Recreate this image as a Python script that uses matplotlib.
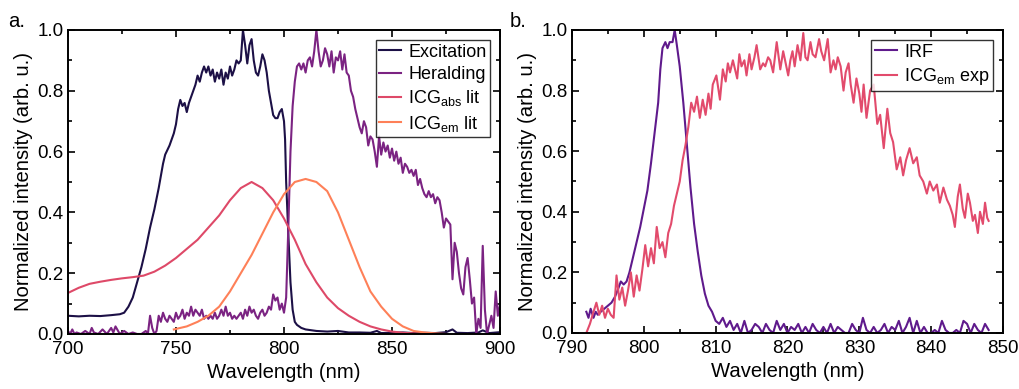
import matplotlib
matplotlib.use("Agg")
import matplotlib.pyplot as plt
from matplotlib.ticker import MultipleLocator

plt.rcParams['font.family'] = ['Liberation Sans', 'DejaVu Sans']

# ---- panel a data ----
exc_x = [700, 705, 710, 715, 720, 724, 726, 728, 730, 732, 734, 736, 738, 740, 742, 744, 745, 747, 749,
         750, 751, 752, 753, 754, 755, 756, 757, 758, 759, 760, 761, 762, 763, 764, 765, 766, 767, 768,
         769, 770, 771, 772, 773, 774, 775, 776, 777, 778, 779, 780, 781, 782, 783, 784, 785, 786, 787,
         788, 789, 790, 791, 792, 793, 794, 795, 796, 797, 798, 799, 800, 800.5, 801, 802, 803, 804, 805,
         806, 808, 810, 815, 820, 825, 830, 835, 840, 843, 845, 850, 855, 860, 865, 870, 875, 878, 880,
         885, 890, 892, 895, 900]
exc_y = [0.06, 0.058, 0.06, 0.059, 0.062, 0.065, 0.07, 0.09, 0.12, 0.17, 0.22, 0.28, 0.35, 0.41, 0.48,
         0.56, 0.59, 0.62, 0.66, 0.69, 0.74, 0.77, 0.75, 0.76, 0.73, 0.76, 0.78, 0.8, 0.82, 0.85, 0.83,
         0.86, 0.88, 0.86, 0.88, 0.85, 0.87, 0.83, 0.86, 0.84, 0.87, 0.82, 0.86, 0.84, 0.88, 0.85, 0.87,
         0.9, 0.89, 0.9, 1.0, 0.95, 0.89, 0.95, 0.97, 0.9, 0.86, 0.85, 0.88, 0.92, 0.9, 0.86, 0.8, 0.76,
         0.72, 0.71, 0.71, 0.73, 0.74, 0.7, 0.64, 0.5, 0.33, 0.17, 0.08, 0.04, 0.03, 0.02, 0.015, 0.01,
         0.008, 0.01, 0.005, 0.005, 0.004, 0.01, 0.003, 0.004, 0.005, 0.003, 0.004, 0.003, 0.006, 0.015,
         0.004, 0.003, 0.005, 0.012, 0.003, 0.006]

# heralding: sparse points below 743 nm, then one reading per nm
her_x = [700, 701, 702, 703, 704, 706, 708, 710, 711, 712, 714, 716, 718, 720, 721, 722, 724, 726,
         728, 730, 732, 734, 736, 737, 738, 739, 740, 741, 742] + list(range(743, 901))
her_y = [0.01, 0.0, 0.015, 0.0, 0.005, 0.0, 0.01, 0.0, 0.02, 0.005,
         0.0, 0.015, 0.0, 0.02, 0.005, 0.025, 0.0, 0.01, 0.0, 0.005,
         0.0, 0.0, 0.01, 0.0, 0.06, 0.02, 0.0, 0.01, 0.06,
         0.04, 0.07, 0.05, 0.04, 0.06, 0.05, 0.04, 0.07, 0.05, 0.06,   # 743-752
         0.08, 0.05, 0.07, 0.06, 0.09, 0.06, 0.08, 0.07, 0.06, 0.08,   # 753-762
         0.05, 0.06, 0.05, 0.06, 0.05, 0.07, 0.05, 0.06, 0.08, 0.06,   # 763-772
         0.09, 0.06, 0.07, 0.05, 0.06, 0.05, 0.06, 0.07, 0.05, 0.08,   # 773-782
         0.06, 0.09, 0.07, 0.08, 0.06, 0.05, 0.07, 0.08, 0.06, 0.07,   # 783-792
         0.09, 0.08, 0.13, 0.11, 0.12, 0.08, 0.1, 0.07, 0.12, 0.35,    # 793-802
         0.6, 0.75, 0.83, 0.88, 0.89, 0.87, 0.89, 0.86, 0.9, 0.91,     # 803-812
         0.88, 0.93, 1.0, 0.93, 0.88, 0.9, 0.94, 0.92, 0.88, 0.93,     # 813-822
         0.86, 0.91, 0.9, 0.93, 0.87, 0.92, 0.86, 0.85, 0.8, 0.78,     # 823-832
         0.74, 0.71, 0.68, 0.66, 0.7, 0.68, 0.62, 0.65, 0.64, 0.6,     # 833-842
         0.55, 0.65, 0.59, 0.63, 0.6, 0.62, 0.58, 0.61, 0.57, 0.6,     # 843-852
         0.56, 0.58, 0.53, 0.56, 0.55, 0.53, 0.54, 0.52, 0.54, 0.49,   # 853-862
         0.51, 0.48, 0.46, 0.45, 0.47, 0.45, 0.46, 0.43, 0.45, 0.44,   # 863-872
         0.4, 0.35, 0.38, 0.37, 0.36, 0.18, 0.3, 0.27, 0.2, 0.15,      # 873-882
         0.13, 0.22, 0.25, 0.18, 0.1, 0.12, 0.0, 0.05, 0.02, 0.29,     # 883-892
         0.08, 0.0, 0.03, 0.06, 0.02, 0.14, 0.06, 0.1]                 # 893-900

abs_x = [700, 705, 710, 715, 720, 725, 730, 735, 740, 745, 750, 755, 760, 765, 770, 775, 780, 785,
         790, 795, 800, 805, 810, 815, 820, 825, 830, 835, 840, 845, 850, 855, 860, 865, 870]
abs_y = [0.135, 0.152, 0.165, 0.172, 0.178, 0.183, 0.187, 0.192, 0.205, 0.225, 0.25, 0.28, 0.31, 0.35,
         0.39, 0.44, 0.48, 0.5, 0.48, 0.44, 0.38, 0.31, 0.23, 0.17, 0.12, 0.085, 0.06, 0.04, 0.025,
         0.015, 0.008, 0.004, 0.002, 0.001, 0.0]

em_x = [749, 755, 760, 765, 770, 775, 780, 785, 790, 795, 800, 805, 810, 815, 820, 825, 830, 835,
        840, 845, 850, 855, 860, 865, 870, 875]
em_y = [0.015, 0.025, 0.04, 0.06, 0.09, 0.14, 0.2, 0.26, 0.33, 0.4, 0.46, 0.5, 0.51, 0.5, 0.47,
        0.4, 0.31, 0.22, 0.14, 0.09, 0.05, 0.025, 0.01, 0.005, 0.002, 0.0]

# ---- panel b data ----
irf_x = [792, 792.3, 792.6, 793, 793.3, 793.6, 794, 794.5, 795, 795.5,
         796, 796.5, 796.8, 797.2, 797.6, 798, 798.5, 799, 799.5, 800,
         800.5, 801, 801.5, 802, 802.3, 802.6, 803, 803.3, 803.6, 804,
         804.3, 804.6, 805, 805.5, 806, 806.5, 807, 807.5, 808, 808.5,
         809, 809.5, 810] + [810.5 + 0.5 * i for i in range(76)]
irf_y = [0.07, 0.05, 0.08, 0.05, 0.07, 0.06, 0.07, 0.08, 0.09, 0.1,
         0.12, 0.15, 0.17, 0.16, 0.17, 0.2, 0.25, 0.3, 0.35, 0.41,
         0.47, 0.56, 0.66, 0.76, 0.87, 0.94, 0.96, 0.94, 0.96, 0.96,
         1.0, 0.95, 0.88, 0.76, 0.62, 0.48, 0.36, 0.27, 0.19, 0.13,
         0.09, 0.07, 0.04,
         0.03, 0.05, 0.02, 0.04, 0.01, 0.03, 0.0, 0.04, 0.0, 0.01,     # 810.5-815
         0.03, 0.02, 0.0, 0.03, 0.01, 0.0, 0.04, 0.01, 0.03, 0.0,      # 815.5-820
         0.02, 0.01, 0.03, 0.0, 0.02, 0.0, 0.03, 0.01, 0.0, 0.02,      # 820.5-825
         0.0, 0.03, 0.0, 0.02, 0.01, 0.0, 0.0, 0.03, 0.01, 0.0,        # 825.5-830
         0.05, 0.01, 0.0, 0.02, 0.0, 0.01, 0.03, 0.0, 0.02, 0.01,      # 830.5-835
         0.04, 0.0, 0.02, 0.05, 0.0, 0.04, 0.0, 0.02, 0.0, 0.0,        # 835.5-840
         0.01, 0.0, 0.04, 0.01, 0.0, 0.0, 0.01, 0.0, 0.04, 0.03,       # 840.5-845
         0.0, 0.03, 0.01, 0.0, 0.03, 0.01]                             # 845.5-848

icg_x = [792, 792.5, 793, 793.4, 793.8, 794.2, 794.6, 795, 795.4, 795.8, 796.2, 796.6, 797, 797.4,
         797.8, 798.2, 798.6, 799, 799.4, 799.8, 800.2, 800.6, 801, 801.4, 801.8, 802.2, 802.6,
         803, 803.4, 803.8, 804.2, 804.6, 805, 805.4, 805.8, 806.2, 806.6, 807, 807.4, 807.8,
         808.2, 808.6, 809, 809.3, 809.6, 810.1, 810.6, 811, 811.4, 811.7, 812, 812.4, 813, 813.3,
         813.6, 814, 814.3, 814.7, 815, 815.4, 815.7, 816.2, 816.6, 816.9, 817.3, 817.6, 818,
         818.5, 819, 819.4, 820.1, 820.4, 820.7, 821, 821.4, 821.8, 822.2, 822.5, 822.8, 823.2,
         823.5, 823.9, 824.4, 824.7, 825.1, 825.6, 826, 826.4, 826.7, 827, 827.4, 827.8, 828.1,
         828.5, 828.8, 829.2, 829.6, 830, 830.3, 830.6, 831, 831.5, 832, 832.5, 832.9, 833.4,
         833.9, 834.3, 834.7, 835.2, 835.7, 836.1, 836.5, 837, 837.5, 838, 838.4, 838.9, 839.4,
         839.8, 840.3, 840.8, 841.2, 841.7, 842.2, 842.6, 843, 843.3, 843.7, 844, 844.4, 844.7,
         845.1, 845.4, 845.8, 846.1, 846.5, 846.8, 847.2, 847.5, 847.8, 848]
icg_y = [0.0, 0.03, 0.07, 0.1, 0.06, 0.09, 0.05, 0.08, 0.06, 0.05, 0.19, 0.11, 0.15, 0.09, 0.14,
         0.2, 0.12, 0.19, 0.14, 0.21, 0.29, 0.22, 0.28, 0.23, 0.35, 0.28, 0.3, 0.25, 0.33, 0.36,
         0.42, 0.46, 0.5, 0.57, 0.62, 0.68, 0.76, 0.73, 0.78, 0.71, 0.77, 0.72, 0.79, 0.74, 0.82,
         0.85, 0.77, 0.87, 0.83, 0.89, 0.86, 0.9, 0.84, 0.92, 0.88, 0.9, 0.85, 0.92, 0.87, 0.91,
         0.95, 0.87, 0.89, 0.88, 0.91, 0.9, 0.86, 0.96, 0.87, 0.93, 0.85, 0.9, 0.93, 0.88, 0.95,
         0.9, 0.99, 0.91, 0.9, 0.96, 0.92, 0.91, 0.97, 0.93, 0.9, 0.97, 0.86, 0.9, 0.87, 0.91,
         0.88, 0.8, 0.86, 0.89, 0.82, 0.76, 0.84, 0.79, 0.73, 0.82, 0.71, 0.8, 0.82, 0.69, 0.72,
         0.61, 0.74, 0.66, 0.63, 0.54, 0.58, 0.52, 0.57, 0.61, 0.56, 0.58, 0.52, 0.5, 0.46, 0.5,
         0.47, 0.49, 0.43, 0.48, 0.44, 0.42, 0.39, 0.35, 0.45, 0.49, 0.41, 0.38, 0.46, 0.43, 0.37,
         0.39, 0.33, 0.4, 0.36, 0.43, 0.38, 0.37]

fig = plt.figure(figsize=(10.19, 3.89), dpi=100)
ax1 = fig.add_axes([0.0667, 0.1414, 0.424, 0.7815])
ax2 = fig.add_axes([0.5613, 0.1440, 0.423, 0.7789])

lw = 1.5
ax1.plot(exc_x, exc_y, color='#1c1046', lw=lw, label='Excitation')
ax1.plot(her_x, her_y, color='#7b2382', lw=lw, label='Heralding')
ax1.plot(abs_x, abs_y, color='#de4968', lw=lw, label='ICG$_\\mathregular{abs}$ lit')
ax1.plot(em_x, em_y, color='#fe8058', lw=lw, label='ICG$_\\mathregular{em}$ lit')
ax1.set_xlim(700, 900)
ax1.xaxis.set_major_locator(MultipleLocator(50))
ax1.xaxis.set_minor_locator(MultipleLocator(25))

ax2.plot(irf_x, irf_y, color='#5f1a8c', lw=lw, label='IRF')
ax2.plot(icg_x, icg_y, color='#e24b6c', lw=lw, label='ICG$_\\mathregular{em}$ exp')
ax2.set_xlim(790, 850)
ax2.xaxis.set_major_locator(MultipleLocator(10))
ax2.xaxis.set_minor_locator(MultipleLocator(5))

for ax in (ax1, ax2):
    ax.set_ylim(0, 1.0)
    ax.yaxis.set_major_locator(MultipleLocator(0.2))
    ax.yaxis.set_minor_locator(MultipleLocator(0.1))
    ax.tick_params(which='both', direction='in', top=True, right=True, labelsize=13.5, width=1.2)
    ax.tick_params(which='major', length=5)
    ax.tick_params(which='minor', length=3)
    ax.tick_params(axis='x', pad=5)
    ax.tick_params(axis='y', pad=3)
    for s in ax.spines.values():
        s.set_linewidth(1.4)
    ax.set_xlabel('Wavelength (nm)', fontsize=14.6, labelpad=4)
    ax.set_ylabel('Normalized intensity (arb. u.)', fontsize=14.6, labelpad=3)
    leg = ax.legend(loc='upper right', fontsize=13, frameon=True, fancybox=False,
                    edgecolor='black', handlelength=1.2, handletextpad=0.4,
                    borderpad=0.2, labelspacing=0.3, borderaxespad=0.55)
    leg.get_frame().set_linewidth(1.0)

fig.text(0.008, 0.93, 'a.', fontsize=14.6)
fig.text(0.500, 0.93, 'b.', fontsize=14.6)

fig.savefig('out.png', dpi=100)
